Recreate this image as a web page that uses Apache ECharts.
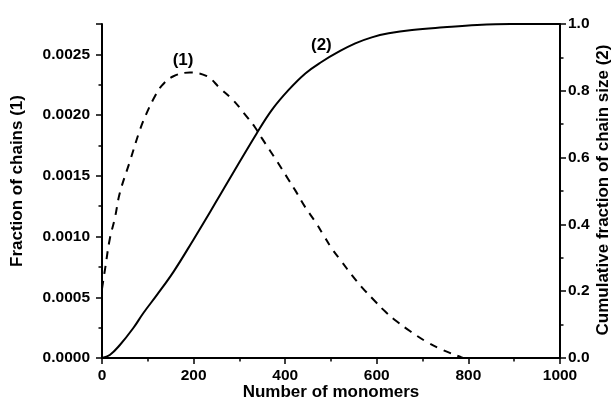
<!DOCTYPE html>
<html>
<head>
<meta charset="utf-8">
<script src="https://cdn.jsdelivr.net/npm/echarts@6/dist/echarts.min.js"></script>
<style>html,body{margin:0;padding:0;background:#fff}#c{width:613px;height:401px}</style>
</head>
<body>
<div id="c"></div>
<script>
// Curve (1): fraction of chains (left axis)
var chainX = [0, 7, 17, 28, 39, 61, 83, 98, 112, 130, 156, 192, 229, 258, 287, 309, 334, 349, 382, 407, 422, 444, 466, 484, 502, 524, 546, 568, 593, 619, 644, 673, 710, 742, 782, 793, 850, 950, 1000];
var chainY = [0.00057, 0.00074, 0.00098, 0.00115, 0.00136, 0.00162, 0.00188, 0.00202, 0.00213, 0.00224, 0.00232, 0.00235, 0.00232, 0.00222, 0.00212, 0.00202, 0.00190, 0.00181, 0.00162, 0.00147, 0.00138, 0.00124, 0.00112, 0.00101, 0.00090, 0.00079, 0.00068, 0.00058, 0.00048, 0.00038, 0.00030, 0.00022, 0.00013, 0.00007, 0.00001, 0, 0, 0, 0];
// Curve (2): cumulative fraction (right axis)
var cumX = [0, 17, 39, 68, 90, 120, 156, 200, 236, 262, 338, 371, 407, 444, 480, 517, 553, 589, 626, 677, 746, 819, 892, 1000];
var cumY = [0, 0.009, 0.039, 0.089, 0.134, 0.189, 0.258, 0.355, 0.437, 0.498, 0.673, 0.743, 0.802, 0.852, 0.887, 0.917, 0.942, 0.960, 0.972, 0.982, 0.990, 0.997, 1.0, 1.0];
// Axis settings
var xTicks = {min: 0, max: 1000, interval: 200};
var leftTicks = {min: 0, max: 0.00275, interval: 0.0005};
var rightTicks = {min: 0, max: 1.0, interval: 0.2};
var label1 = {text: '(1)', x: 177, y: 0.00245};
var label2 = {text: '(2)', x: 479, y: 0.937};
var titles = {x: 'Number of monomers', left: 'Fraction of chains (1)', right: 'Cumulative fraction of chain size (2)'};

var FONT = 'Liberation Sans, Arial, sans-serif';
var chart = echarts.init(document.getElementById('c'), null, {renderer: 'canvas'});

function zip(a, b) { return a.map(function (v, i) { return [v, b[i]]; }); }

var lineAxis = {show: true, lineStyle: {color: '#000', width: 2}};
var tick = {show: true, inside: false, length: 6, lineStyle: {color: '#000', width: 1.5}};
var minor = {show: true, splitNumber: 2, length: 3.5, lineStyle: {color: '#000', width: 1.5}};
function lbl(margin, fmt) {
  return {color: '#000', fontFamily: FONT, fontWeight: 'bold', fontSize: 15.5, margin: margin, formatter: fmt};
}
function curveLabel(t) {
  return {symbol: 'circle', symbolSize: 1, itemStyle: {color: 'rgba(0,0,0,0)'}, silent: true,
    label: {show: true, position: 'inside', formatter: t.text, color: '#000', fontFamily: FONT, fontWeight: 'bold', fontSize: 17},
    data: [{coord: [t.x, t.y]}]};
}

var option = {
  backgroundColor: '#fff',
  animation: false,
  grid: {left: 102, right: 53, top: 24, bottom: 43, outerBoundsMode: 'none', containLabel: false},
  xAxis: {
    type: 'value', min: xTicks.min, max: xTicks.max, interval: xTicks.interval,
    axisLine: lineAxis, axisTick: tick, minorTick: minor, splitLine: {show: false},
    axisLabel: lbl(10, function (v) { return String(v); })
  },
  yAxis: [
    {
      type: 'value', position: 'left', min: leftTicks.min, max: leftTicks.max, interval: leftTicks.interval,
      axisLine: lineAxis, axisTick: tick, minorTick: minor, splitLine: {show: false},
      axisLabel: lbl(12, function (v) {
        var k = v / leftTicks.interval;
        if (Math.abs(k - Math.round(k)) > 1e-6) return '';
        return v.toFixed(4);
      })
    },
    {
      type: 'value', position: 'right', min: rightTicks.min, max: rightTicks.max, interval: rightTicks.interval,
      axisLine: lineAxis, axisTick: tick, minorTick: minor, splitLine: {show: false},
      axisLabel: lbl(8, function (v) { return v.toFixed(1); })
    }
  ],
  series: [
    {
      type: 'line', yAxisIndex: 0, data: zip(chainX, chainY), smooth: 0.4, symbol: 'none',
      lineStyle: {color: '#000', width: 2, type: [8, 7]},
      markPoint: curveLabel(label1)
    },
    {
      type: 'line', yAxisIndex: 1, data: zip(cumX, cumY), smooth: 0.4, symbol: 'none',
      lineStyle: {color: '#000', width: 2},
      markPoint: curveLabel(label2)
    }
  ]
};
chart.setOption(option);

// Axis titles
var zr = chart.getZr();
function title(text, x, y, rot) {
  zr.add(new echarts.graphic.Text({
    style: {text: text, fill: '#000', font: 'bold 17px ' + FONT, align: 'center', verticalAlign: 'middle'},
    x: x, y: y, rotation: rot
  }));
}
title(titles.x, 331, 392, 0);
title(titles.left, 17, 181, Math.PI / 2);
title(titles.right, 603, 190, Math.PI / 2);
</script>
</body>
</html>
